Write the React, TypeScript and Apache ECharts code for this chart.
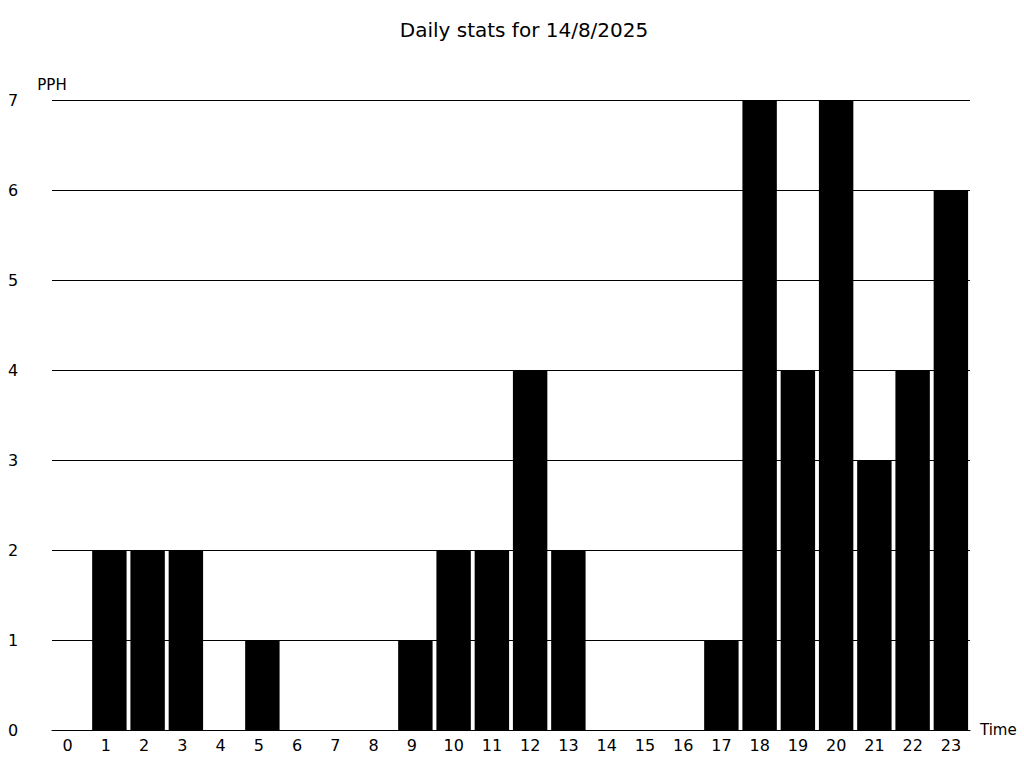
import React, { useEffect, useRef } from "react";
import * as echarts from "echarts";

const hours = ["0","1","2","3","4","5","6","7","8","9","10","11","12","13","14","15","16","17","18","19","20","21","22","23"];
const pph = [0,2,2,2,0,1,0,0,0,1,2,2,4,2,0,0,0,1,7,4,7,3,4,6];
const titleText = "Daily stats for 14/8/2025";
const yName = "PPH";
const xName = "Time";

const FONT = "DejaVu Sans";

export default function App() {
  const ref = useRef<HTMLDivElement>(null);
  useEffect(() => {
    if (!ref.current) return;
    const chart = echarts.init(ref.current, null, { renderer: "svg" });
    chart.setOption({
      animation: false,
      backgroundColor: "#ffffff",
      title: {
        text: titleText,
        left: 519,
        top: 15,
        textAlign: "center",
        textStyle: { fontFamily: FONT, fontSize: 20, fontWeight: "normal", color: "#000" },
      },
      grid: { left: 52, right: 54, top: 100, bottom: 38, containLabel: false },
      xAxis: {
        type: "category",
        data: hours,
        name: xName,
        nameLocation: "end",
        nameGap: 10,
        nameTextStyle: { fontFamily: FONT, fontSize: 15, color: "#000", verticalAlign: "middle" },
        axisLine: { show: true, lineStyle: { color: "#000", width: 1 } },
        axisTick: { show: false },
        axisLabel: {
          interval: 0,
          margin: 7,
          fontFamily: FONT,
          fontSize: 16,
          color: "#000",
          formatter: (v: string) => (v.length === 1 ? "{s|" + v + "}" : "{d|" + v + "}"),
          rich: {
            s: { padding: [0, 7, 0, 0], fontFamily: FONT, fontSize: 16, color: "#000" },
            d: { fontFamily: FONT, fontSize: 16, color: "#000" },
          },
        },
        splitLine: { show: false },
      },
      yAxis: {
        type: "value",
        min: 0,
        max: 7,
        interval: 1,
        name: yName,
        nameLocation: "end",
        nameGap: 8,
        nameTextStyle: { fontFamily: FONT, fontSize: 15, color: "#000", align: "center" },
        axisLine: { show: false },
        axisTick: { show: false },
        axisLabel: {
          margin: 44,
          fontFamily: FONT,
          fontSize: 16,
          color: "#000",
          align: "left",
        },
        splitLine: { show: true, lineStyle: { color: "#000", width: 1 } },
      },
      series: [
        {
          type: "bar",
          data: pph,
          barCategoryGap: "10%",
          itemStyle: { color: "#000" },
        },
      ],
    });
    return () => chart.dispose();
  }, []);
  return (
    <div
      ref={ref}
      style={{ position: "absolute", left: 0, top: 0, width: 1024, height: 768 }}
    />
  );
}
